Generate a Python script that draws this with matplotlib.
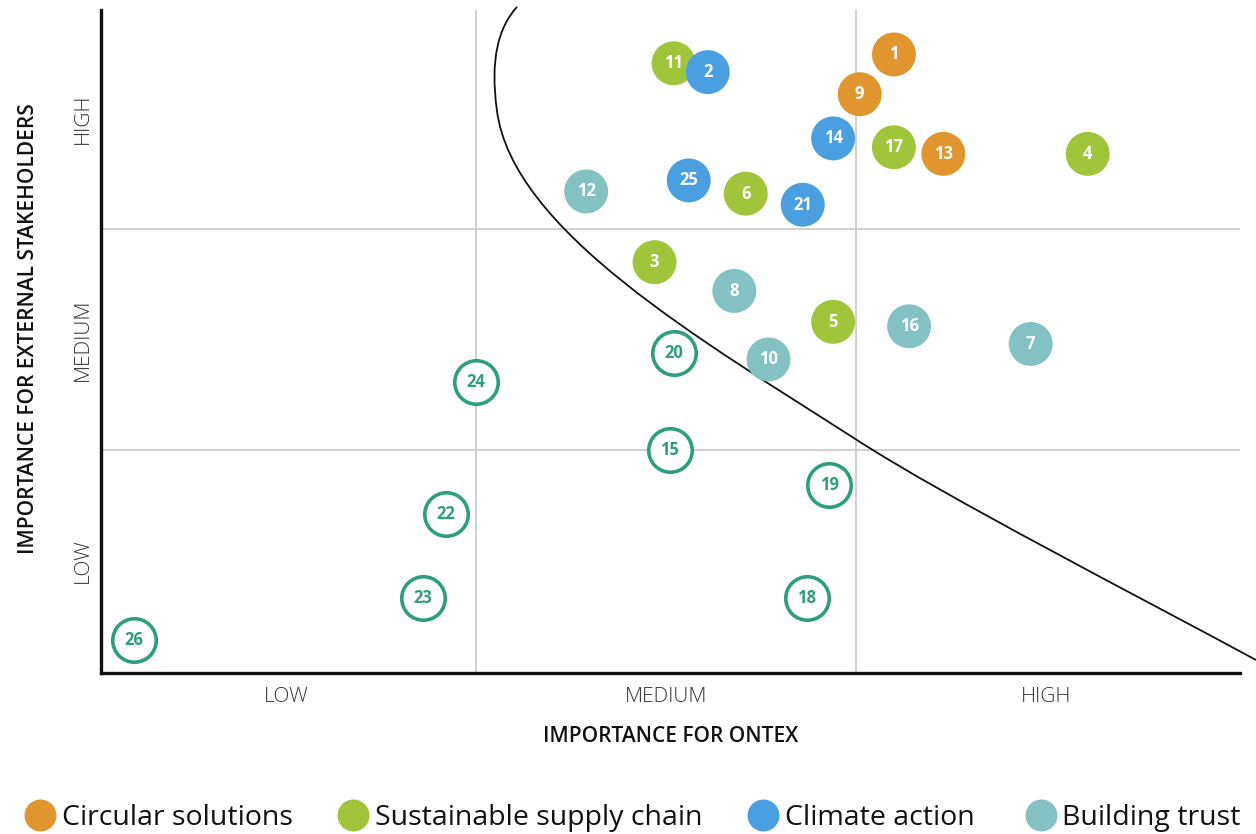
import matplotlib
matplotlib.use("Agg")
import matplotlib.pyplot as plt
from matplotlib.path import Path
from matplotlib.patches import PathPatch
from matplotlib.lines import Line2D

plt.rcParams['font.family'] = ['Open Sans', 'DejaVu Sans']

# topic number, importance for Ontex (x), importance for stakeholders (y)
circular_ids = [1, 9, 13]
circular_x = [2.10, 2.01, 2.23]
circular_y = [2.79, 2.61, 2.34]

supply_ids = [11, 17, 4, 6, 3, 5]
supply_x = [1.52, 2.10, 2.61, 1.71, 1.47, 1.94]
supply_y = [2.75, 2.37, 2.34, 2.16, 1.85, 1.58]

climate_ids = [2, 14, 25, 21]
climate_x = [1.61, 1.94, 1.56, 1.86]
climate_y = [2.71, 2.41, 2.22, 2.11]

trust_ids = [12, 8, 16, 7, 10]
trust_x = [1.29, 1.68, 2.14, 2.46, 1.77]
trust_y = [2.17, 1.72, 1.56, 1.48, 1.41]

other_ids = [20, 24, 15, 19, 22, 23, 18, 26]
other_x = [1.52, 1.00, 1.51, 1.93, 0.92, 0.86, 1.87, 0.10]
other_y = [1.44, 1.31, 1.00, 0.84, 0.71, 0.33, 0.33, 0.14]

levels = ['LOW', 'MEDIUM', 'HIGH']

# materiality threshold, drawn as cubic bezier segments
curve_x = [1.108, 1.058, 1.037, 1.055, 1.095, 1.589, 2.003, 2.239, 2.737, 3.053]
curve_y = [3.005, 2.910, 2.765, 2.538, 1.995, 1.502, 1.045, 0.783, 0.344, 0.050]

c_orange = '#E0952F'
c_green = '#A0C43A'
c_blue = '#4A9FE0'
c_teal = '#84C1C3'
c_ring = '#2E9E80'

fig = plt.figure(figsize=(12.56, 8.34), dpi=100)
ax = fig.add_axes([0.0804, 0.193, 0.9069, 0.795])

ax.set_xlim(0.013, 3.011)
ax.set_ylim(-0.009, 2.991)
for v in (1, 2):
    ax.axvline(v, color='#cccccc', lw=1.3, zorder=0)
    ax.axhline(v, color='#cccccc', lw=1.3, zorder=0)

codes = [Path.MOVETO] + [Path.CURVE4] * (len(curve_x) - 1)
path = Path(list(zip(curve_x, curve_y)), codes)
ax.add_patch(PathPatch(path, facecolor='none', edgecolor='#111111', lw=1.3,
                       clip_on=False, zorder=1))

filled = [(circular_ids, circular_x, circular_y, c_orange),
          (supply_ids, supply_x, supply_y, c_green),
          (climate_ids, climate_x, climate_y, c_blue),
          (trust_ids, trust_x, trust_y, c_teal)]
for ids, xs, ys, col in filled:
    ax.scatter(xs, ys, s=1000, color=col, edgecolors='none', zorder=3)
    for n, x, y in zip(ids, xs, ys):
        ax.text(x, y, str(n), color='white', fontsize=12, fontweight='bold',
                ha='center', va='center', zorder=4)

ax.scatter(other_x, other_y, s=980, facecolors='white', edgecolors=c_ring,
           linewidths=2.6, zorder=3)
for n, x, y in zip(other_ids, other_x, other_y):
    ax.text(x, y, str(n), color=c_ring, fontsize=12, fontweight='bold',
            ha='center', va='center', zorder=4)

for side in ('top', 'right'):
    ax.spines[side].set_visible(False)
for side in ('left', 'bottom'):
    ax.spines[side].set_linewidth(2.4)
    ax.spines[side].set_color('#111111')

ax.set_xticks([0.5, 1.5, 2.5])
ax.set_xticklabels(levels)
ax.set_yticks([0.5, 1.5, 2.5])
ax.set_yticklabels(levels, rotation=90, va='center')
ax.tick_params(length=0, labelsize=15, colors='#333333')
ax.tick_params(axis='x', pad=10)
ax.tick_params(axis='y', pad=6)
for lab in ax.get_xticklabels() + ax.get_yticklabels():
    lab.set_fontweight('light')

ax.set_xlabel('IMPORTANCE FOR ONTEX', fontsize=15, fontweight='semibold',
              color='#111111', labelpad=14)
ax.set_ylabel('IMPORTANCE FOR EXTERNAL STAKEHOLDERS', fontsize=15,
              fontweight='semibold', color='#111111')
ax.yaxis.set_label_coords(-0.054, 0.52)

# legend entries placed one by one along the bottom
names = ['Circular solutions', 'Sustainable supply chain', 'Climate action',
         'Building trust']
colors = [c_orange, c_green, c_blue, c_teal]
dot_px = [40, 353, 763, 1041]
text_px = [62, 375, 785, 1062]
for name, col, dx, tx in zip(names, colors, dot_px, text_px):
    fig.add_artist(Line2D([dx / 1256], [0.0228], marker='o', ls='none',
                          markersize=23, markerfacecolor=col,
                          markeredgecolor='none', transform=fig.transFigure))
    fig.text(tx / 1256, 0.0105, name, fontsize=20.5, color='#111111',
             ha='left', va='baseline')

fig.savefig('out.png', dpi=100)
